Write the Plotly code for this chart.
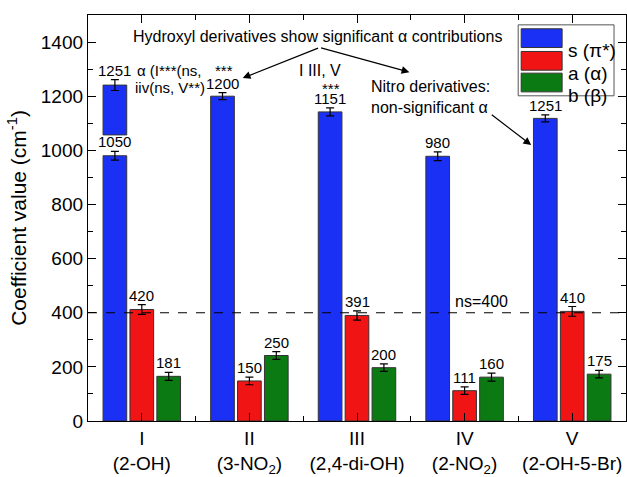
import plotly.graph_objects as go

# ---------------- data ----------------
categories = ["I<br>(2-OH)", "II<br>(3-NO<sub>2</sub>)", "III<br>(2,4-di-OH)",
              "IV<br>(2-NO<sub>2</sub>)", "V<br>(2-OH-5-Br)"]
s_values = [980, 1200, 1142, 978, 1118]
s_errors = [16, 13, 15, 16, 13]
s_labels = ["1050", "1200", "1151", "980", "1251"]
s_I_upper_base = [1057]
s_I_upper_top = [1241]
s_I_upper_error = [20]
s_I_upper_label = ["1251"]
a_values = [412, 148, 390, 112, 405]
a_errors = [18, 14, 17, 14, 18]
a_labels = ["420", "150", "391", "111", "410"]
b_values = [165, 242, 197, 162, 173]
b_errors = [15, 14, 14, 15, 14]
b_labels = ["181", "250", "200", "160", "175"]
ns_threshold = 400
series_names = ["s (π*)", "a (α)", "b (β)"]

# ---------------- style ----------------
FONT = "Liberation Sans"
COLORS = ["#1a30f5", "#f01414", "#0c7a12"]
EDGE = "#333333"
BAR_W = 0.22
OFFSETS = [-0.36, -0.11, 0.14]

W, H = 627, 477
ML, MR, MT, MB = 88, 0, 15, 50
PW, PH = W - ML - MR, H - MT - MB
XR = [-0.5, len(categories) - 0.5]
YR = [0, 1500]


def dx(px):
    return XR[0] + (px - ML) / PW * (XR[1] - XR[0])


def dy(py):
    return YR[0] + (MT + PH - py) / PH * (YR[1] - YR[0])


def paper_x(px):
    return (px - ML) / PW


def paper_y(py):
    return (MT + PH - py) / PH


xs = list(range(len(categories)))
fig = go.Figure()

series = [(s_values, s_errors, s_labels), (a_values, a_errors, a_labels),
          (b_values, b_errors, b_labels)]
annotations = []
for k, (vals, errs, labs) in enumerate(series):
    fig.add_trace(go.Bar(
        x=xs, y=vals, name=series_names[k], width=BAR_W, offset=OFFSETS[k],
        marker=dict(color=COLORS[k], line=dict(color=EDGE, width=1)),
        error_y=dict(type="data", array=errs, color="black", thickness=1.2, width=4),
        showlegend=False))
    for i, (v, e, lab) in enumerate(zip(vals, errs, labs)):
        annotations.append(dict(x=i + OFFSETS[k] + BAR_W / 2, y=v + e, text=lab,
                                showarrow=False, yanchor="bottom", yshift=-1,
                                font=dict(family=FONT, size=15, color="black")))

# upper segment of the s bar for compound I
fig.add_trace(go.Bar(
    x=[xs[0]], y=[s_I_upper_top[0] - s_I_upper_base[0]], base=s_I_upper_base,
    width=BAR_W, offset=OFFSETS[0],
    marker=dict(color=COLORS[0], line=dict(color=EDGE, width=1)),
    error_y=dict(type="data", array=s_I_upper_error, color="black", thickness=1.2, width=4),
    showlegend=False))
annotations.append(dict(x=xs[0] + OFFSETS[0] + BAR_W / 2,
                        y=s_I_upper_top[0] + s_I_upper_error[0], text=s_I_upper_label[0],
                        showarrow=False, yanchor="bottom", yshift=-1,
                        font=dict(family=FONT, size=15, color="black")))

tf = dict(family=FONT, size=16, color="black")
sf = dict(family=FONT, size=15, color="black")
annotations += [
    dict(x=dx(318), y=dy(37), text="Hydroxyl derivatives show significant α contributions",
         showarrow=False, font=tf),
    dict(x=dx(135), y=dy(71), text="α (I***(ns,", showarrow=False, xanchor="left", font=sf),
    dict(x=dx(224), y=dy(71), text="***", showarrow=False, font=sf),
    dict(x=dx(133), y=dy(89), text="iiv(ns, V**)", showarrow=False, xanchor="left", font=sf),
    dict(x=dx(320), y=dy(71), text="I III, V", showarrow=False, font=tf),
    dict(x=dx(331), y=dy(90), text="***", showarrow=False, font=sf),
    dict(x=dx(370), y=dy(98), text="Nitro derivatives:<br>non-significant α",
         showarrow=False, xanchor="left", align="left", font=tf),
    dict(x=dx(482), y=dy(306), text="ns=400", showarrow=False, font=tf),
]
for (x0, y0, x1, y1) in [(320, 48, 243, 79), (320, 48, 410, 73), (491, 115, 532, 147)]:
    annotations.append(dict(x=dx(x1), y=dy(y1), ax=dx(x0), ay=dy(y0), xref="x", yref="y",
                            axref="x", ayref="y", text="", showarrow=True,
                            arrowhead=2, arrowsize=1.3, arrowwidth=1.2, arrowcolor="black"))

shapes = [dict(type="line", xref="paper", x0=0, x1=1, yref="y", y0=ns_threshold,
               y1=ns_threshold, line=dict(color="black", width=1.2, dash="dash"))]

# legend box drawn by hand (wide swatches)
shapes.append(dict(type="rect", xref="paper", yref="paper",
                   x0=paper_x(519), x1=paper_x(615), y0=paper_y(97), y1=paper_y(25),
                   line=dict(color="#555555", width=1), fillcolor="white", layer="above"))
rows = [(29, 48), (52, 71), (74, 93)]
for k, (t, b) in enumerate(rows):
    shapes.append(dict(type="rect", xref="paper", yref="paper",
                       x0=paper_x(522), x1=paper_x(563), y0=paper_y(b), y1=paper_y(t),
                       line=dict(color=EDGE, width=1), fillcolor=COLORS[k], layer="above"))
    annotations.append(dict(xref="paper", yref="paper", x=paper_x(567),
                            y=paper_y((t + b) / 2), text=series_names[k], showarrow=False,
                            xanchor="left", font=dict(family=FONT, size=19, color="black")))

fig.update_layout(
    width=W, height=H, margin=dict(l=ML, r=MR, t=MT, b=MB),
    paper_bgcolor="white", plot_bgcolor="white", barmode="overlay",
    font=dict(family=FONT, size=19, color="black"),
    annotations=annotations, shapes=shapes, showlegend=False,
    xaxis=dict(range=XR, tickmode="array", tickvals=xs, ticktext=categories,
               showline=True, linecolor="black", linewidth=1.3, mirror="ticks",
               ticks="inside", ticklen=8, tickcolor="black", tickwidth=1.2,
               minor=dict(tickmode="array", tickvals=[i + 0.5 for i in xs[:-1]],
                          ticks="inside", ticklen=5, tickcolor="black", tickwidth=1.2),
               showgrid=False, zeroline=False, tickfont=dict(family=FONT, size=19)),
    yaxis=dict(range=YR, dtick=200, tick0=0, showline=True, linecolor="black",
               linewidth=1.3, mirror="ticks", ticks="inside", ticklen=8,
               tickcolor="black", tickwidth=1.2,
               minor=dict(dtick=100, ticks="inside", ticklen=5, tickcolor="black",
                          tickwidth=1.2),
               showgrid=False, zeroline=False, tickfont=dict(family=FONT, size=19),
               title=dict(text="Coefficient value (cm<sup>-1</sup>)",
                          font=dict(family=FONT, size=21), standoff=8)),
)

fig.write_html("out.html")
